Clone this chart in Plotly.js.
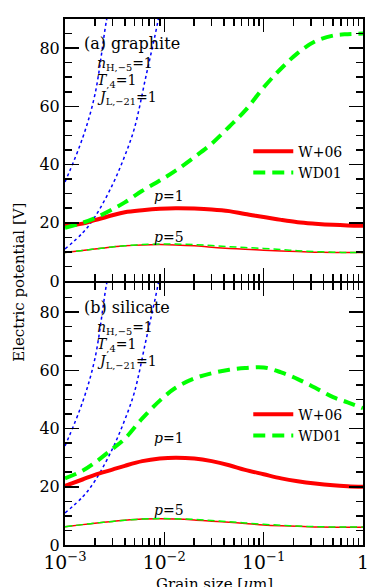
<!DOCTYPE html>
<html>
<head>
<meta charset="utf-8">
<script src="https://cdn.plot.ly/plotly-3.0.1.min.js"></script>
<style>
  body { margin: 0; background: #fff; }
  #chart { width: 382px; height: 587px; }
</style>
</head>
<body>
<div id="chart"></div>
<script>
// grain radius grid [um]
const sizes = [0.001, 0.0015, 0.002, 0.003, 0.004, 0.006, 0.009, 0.013, 0.02, 0.03,
               0.045, 0.065, 0.1, 0.15, 0.22, 0.33, 0.5, 0.7, 1];

// (a) graphite
const graW06p1  = [18.9, 19.7, 20.9, 22.6, 23.6, 24.3, 24.8, 25.0, 24.9, 24.6,
                   24.0, 23.0, 22.0, 21.0, 20.2, 19.7, 19.3, 19.1, 19.0];
const graWD01p1 = [18.3, 20.0, 21.6, 24.6, 27.0, 31.0, 34.5, 37.9, 42.5, 47.2,
                   53.0, 58.5, 66.5, 73.0, 78.3, 82.3, 84.3, 84.8, 85.0];
const graW06p5  = [9.8, 10.5, 11.0, 11.7, 12.1, 12.4, 12.5, 12.4, 12.1, 11.6,
                   11.2, 10.9, 10.6, 10.3, 10.1, 9.9, 9.8, 9.8, 9.8];
const graWD01p5 = [9.8, 10.5, 11.0, 11.7, 12.1, 12.5, 12.7, 12.7, 12.5, 12.2,
                   11.8, 11.5, 11.2, 10.8, 10.4, 10.1, 9.9, 9.8, 9.8];

// (b) silicate
const silW06p1  = [20.3, 22.5, 24.1, 25.9, 27.2, 28.8, 29.7, 30.0, 29.7, 28.8,
                   27.4, 25.8, 24.3, 22.9, 21.9, 21.1, 20.5, 20.2, 20.0];
const silWD01p1 = [22.9, 25.5, 28.3, 33.0, 36.5, 43.5, 49.6, 54.0, 57.2, 59.0,
                   60.2, 60.8, 61.0, 59.3, 57.0, 54.0, 50.8, 49.0, 47.0];
const silW06p5  = [6.3, 7.0, 7.5, 8.1, 8.5, 8.9, 9.0, 8.9, 8.6, 8.2,
                   7.8, 7.4, 6.9, 6.6, 6.4, 6.2, 6.1, 6.1, 6.1];
const silWD01p5 = [6.3, 7.0, 7.5, 8.1, 8.5, 8.9, 9.1, 9.0, 8.8, 8.4,
                   8.0, 7.6, 7.1, 6.8, 6.5, 6.3, 6.2, 6.2, 6.2];

// blue dotted curves (same in both panels)
const dotSizes1 = [0.001, 0.0015, 0.002, 0.0026, 0.003];
const dotV1     = [34, 49, 64, 89, 100];
const dotSizes2 = [0.001, 0.0015, 0.002, 0.003, 0.004, 0.005, 0.0065, 0.0087, 0.01];
const dotV2     = [11, 16.5, 22, 33, 43, 52.5, 70, 90, 103];

const FONT = 'DejaVu Serif, serif';
const RED = '#ff0000', GREEN = '#00ff00', BLUE = '#0000ff';

function panel(xa, ya, leg, w06p1, wd01p1, w06p5, wd01p5) {
    const base = {x: sizes, mode: 'lines', xaxis: xa, yaxis: ya, legend: leg, hoverinfo: 'skip'};
    return [
        {x: dotSizes1, y: dotV1, mode: 'lines', xaxis: xa, yaxis: ya, showlegend: false,
         line: {color: BLUE, width: 1.5, dash: 'dot', shape: 'spline'}},
        {x: dotSizes2, y: dotV2, mode: 'lines', xaxis: xa, yaxis: ya, showlegend: false,
         line: {color: BLUE, width: 1.5, dash: 'dot', shape: 'spline'}},
        {...base, y: w06p5, showlegend: false, line: {color: RED, width: 1.5, shape: 'spline'}},
        {...base, y: wd01p5, showlegend: false, line: {color: GREEN, width: 1.5, dash: '7px,4px', shape: 'spline'}},
        {...base, y: w06p1, name: 'W+06', line: {color: RED, width: 4, shape: 'spline'}},
        {...base, y: wd01p1, name: 'WD01', line: {color: GREEN, width: 4, dash: '12px,7px', shape: 'spline'}},
    ];
}

const data = [
    ...panel('x2', 'y2', 'legend', graW06p1, graWD01p1, graW06p5, graWD01p5),
    ...panel('x', 'y', 'legend2', silW06p1, silWD01p1, silW06p5, silWD01p5),
];

const xCommon = {
    type: 'log', range: [-3, 0], dtick: 1, exponentformat: 'power',
    showline: true, linecolor: 'black', linewidth: 2, mirror: 'allticks',
    ticks: 'inside', ticklen: 13, tickwidth: 1.5, tickcolor: 'black',
    minor: {ticks: 'inside', ticklen: 7, tickwidth: 1.5, tickcolor: 'black', dtick: 'D1'},
    showgrid: false, zeroline: false,
    tickfont: {family: FONT, size: 15, color: 'black'},
};
const yCommon = {
    range: [0, 90], dtick: 20,
    showline: true, linecolor: 'black', linewidth: 2, mirror: 'allticks',
    ticks: 'inside', ticklen: 14, tickwidth: 1.5, tickcolor: 'black',
    minor: {ticks: 'inside', ticklen: 7, tickwidth: 1.5, tickcolor: 'black', dtick: 5},
    showgrid: false, zeroline: false,
    tickfont: {family: FONT, size: 16, color: 'black'},
};

const labFont = {family: FONT, size: 16, color: 'black'};
const subFont = {family: FONT, size: 14, color: 'black'};

function note(xr, yr, x, y, text, font, xanchor) {
    return {xref: xr + ' domain', yref: yr + ' domain', x, y, text, showarrow: false,
            xanchor: xanchor || 'left', yanchor: 'middle', font};
}

function panelNotes(xr, yr, name) {
    return [
        note(xr, yr, 0.057, 0.905, name, labFont),
        note(xr, yr, 0.1, 0.827, '<i>n</i><sub>H,−5</sub>=1', subFont),
        note(xr, yr, 0.1, 0.764, '<i>T</i><sub>,4</sub>=1', subFont),
        note(xr, yr, 0.1, 0.70, '<i>J</i><sub>L,−21</sub>=1', subFont),
    ];
}

const legFont = {family: FONT, size: 14, color: 'black'};
// small gap so the two 2px frame lines at the panel boundary lie on top of each other
const gap = 1 / 526;

const layout = {
    width: 382, height: 587,
    margin: {l: 65, r: 19, t: 19, b: 42},
    paper_bgcolor: 'white', plot_bgcolor: 'white',
    xaxis: {...xCommon, anchor: 'y'},
    yaxis: {...yCommon, domain: [0, 0.5 - gap], anchor: 'x'},
    xaxis2: {...xCommon, anchor: 'y2', matches: 'x', showticklabels: false},
    yaxis2: {...yCommon, domain: [0.5 + gap, 1], anchor: 'x2'},
    legend: {x: 0.615, y: 0.778, xanchor: 'left', yanchor: 'top', bgcolor: 'rgba(0,0,0,0)',
             font: legFont, itemwidth: 40},
    legend2: {x: 0.615, y: 0.278, xanchor: 'left', yanchor: 'top', bgcolor: 'rgba(0,0,0,0)',
              font: legFont, itemwidth: 40},
    annotations: [
        ...panelNotes('x2', 'y2', '(a) graphite'),
        ...panelNotes('x', 'y', '(b) silicate'),
        note('x2', 'y2', 0.35, 0.323, '<i>p</i>=1', subFont, 'center'),
        note('x2', 'y2', 0.35, 0.167, '<i>p</i>=5', subFont, 'center'),
        note('x', 'y', 0.35, 0.41, '<i>p</i>=1', subFont, 'center'),
        note('x', 'y', 0.35, 0.133, '<i>p</i>=5', subFont, 'center'),
        {xref: 'paper', yref: 'paper', x: -0.155, y: 0.5, xanchor: 'center', yanchor: 'middle',
         text: 'Electric potential [V]', textangle: -90, showarrow: false,
         font: {family: FONT, size: 15, color: 'black'}},
        {xref: 'paper', yref: 'paper', x: 0.5, y: -0.074, xanchor: 'center', yanchor: 'middle',
         text: 'Grain size [<i>μ</i>m]', showarrow: false,
         font: {family: FONT, size: 15, color: 'black'}},
    ],
};

Plotly.newPlot('chart', data, layout, {displayModeBar: false, staticPlot: true});
</script>
</body>
</html>
